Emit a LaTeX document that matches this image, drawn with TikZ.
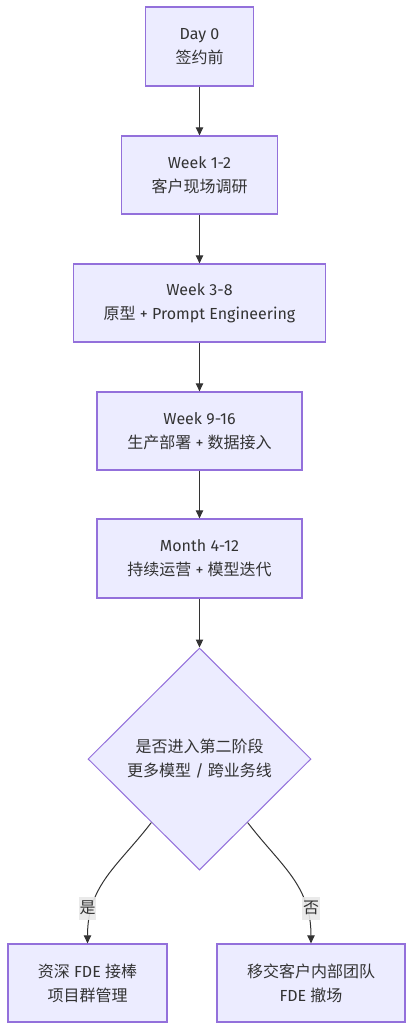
\documentclass[tikz,border=0pt]{standalone}
\usepackage{fontspec}
\setmainfont{Fira Sans}
\newfontfamily\cjk{Noto Sans CJK SC}
\usetikzlibrary{shapes.geometric,arrows.meta,calc}
\definecolor{nodefill}{HTML}{ECECFF}
\definecolor{nodeline}{HTML}{9370DB}
\definecolor{edgeline}{HTML}{333333}
\definecolor{textcol}{HTML}{333333}
\definecolor{labelbg}{HTML}{E8E8E8}
\newdimen\pxu \pxu=0.75pt
\begin{document}
\begin{tikzpicture}[x=0.75pt,y=-0.75pt,
  every node/.style={text=textcol,font={\fontsize{12pt}{18pt}\selectfont},align=center,inner sep=0pt},
  stepbox/.style={draw=nodeline,fill=nodefill,line width=0.9pt,rectangle},
  decision/.style={draw=nodeline,fill=nodefill,line width=0.75pt,diamond,aspect=1},
  edge/.style={draw=edgeline,line width=0.75pt,-{Triangle[length=6pt,width=5.5pt]}},
  elabel/.style={fill=labelbg,fill opacity=0.9,text opacity=1,inner xsep=0.6pt,minimum height=23\pxu}]
\useasboundingbox (0,0) rectangle (413,1031);
\node[stepbox,minimum width=108\pxu,minimum height=79\pxu] (n1) at (199.5,46.5) {Day 0\\{\cjk 签约前}};
\node[stepbox,minimum width=156\pxu,minimum height=78\pxu] (n2) at (199.5,175) {Week 1-2\\{\cjk 客户现场调研}};
\node[stepbox,minimum width=252\pxu,minimum height=78\pxu] (n3) at (199.5,303) {Week 3-8\\{\cjk 原型} + Prompt Engineering};
\node[stepbox,minimum width=205\pxu,minimum height=78\pxu] (n4) at (199.5,431) {Week 9-16\\{\cjk 生产部署} + {\cjk 数据接入}};
\node[stepbox,minimum width=205\pxu,minimum height=79\pxu] (n5) at (199.5,558.5) {Month 4-12\\{\cjk 持续运营} + {\cjk 模型迭代}};
\node[decision,minimum width=223\pxu,minimum height=222\pxu] (d) at (199.5,759) {{\cjk 是否进入第二阶段}\\{\cjk 更多模型} / {\cjk 跨业务线}};
\node[stepbox,minimum width=159\pxu,minimum height=78\pxu] (l) at (87.5,983) {{\cjk 资深} FDE {\cjk 接棒}\\{\cjk 项目群管理}};
\node[stepbox,minimum width=188\pxu,minimum height=78\pxu] (r) at (311,983) {{\cjk 移交客户内部团队}\\FDE {\cjk 撤场}};
\draw[edge] (n1.south) -- (n1.south |- n2.north);
\draw[edge] (n2.south) -- (n2.south |- n3.north);
\draw[edge] (n3.south) -- (n3.south |- n4.north);
\draw[edge] (n4.south) -- (n4.south |- n5.north);
\draw[edge] (n5.south) -- (n5.south |- d.north);
\coordinate (dl) at ($(d.west)!0.57!(d.south)$);
\coordinate (dr) at ($(d.east)!0.57!(d.south)$);
\draw[edge] (dl) .. controls (118,866) and (87.5,885) .. (l.north);
\draw[edge] (dr) .. controls (281,866) and (311,885) .. (r.north);
\node[elabel] (yes) at (87.5,908) {\cjk 是};
\node[elabel] (no) at (311,908) {\cjk 否};
\end{tikzpicture}
\end{document}
